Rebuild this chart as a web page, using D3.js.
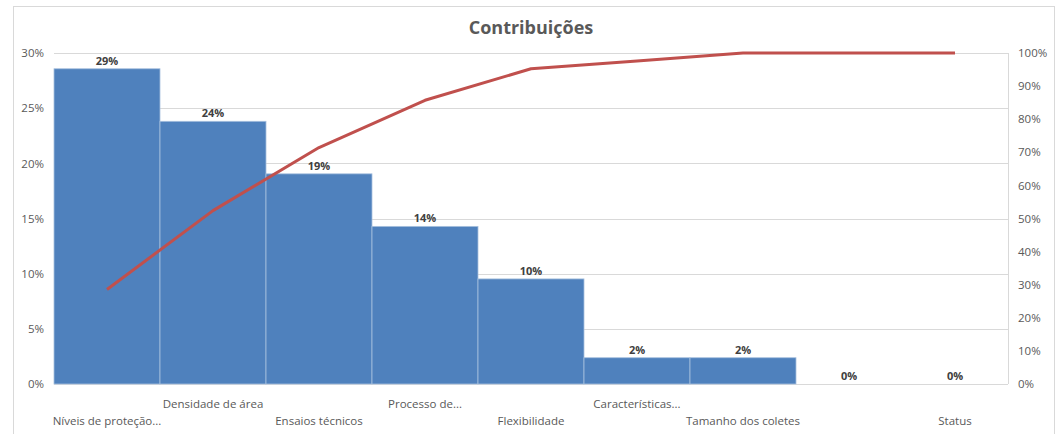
<!DOCTYPE html>
<html lang="pt">
<head>
  <meta charset="UTF-8">
  <title>Contribuições</title>
  <script src="https://d3js.org/d3.v7.min.js"></script>
  <style>
    body
    {
      margin: 0;
      background-color: #ffffff;
    }

    svg
    {
      font-family: "Open Sans", sans-serif;
      display: block;
    }
  </style>
</head>
<body>
  <svg width="1062" height="434"></svg>
  <script>
    // dados
    const categories = [
      "Níveis de proteção...", "Densidade de área", "Ensaios técnicos",
      "Processo de...", "Flexibilidade", "Características...",
      "Tamanho dos coletes", "", "Status"
    ];
    const counts = [12, 10, 8, 6, 4, 1, 1, 0, 0];
    const leftTicks = [0, 0.05, 0.10, 0.15, 0.20, 0.25, 0.30];
    const rightTicks = [0, 0.1, 0.2, 0.3, 0.4, 0.5, 0.6, 0.7, 0.8, 0.9, 1.0];

    const total = d3.sum(counts);
    const shares = counts.map(c => c / total);
    let acc = 0;
    const cumulative = shares.map(s => (acc += s));

    const svg = d3.select("svg");
    const margin = { top: 53, right: 54, bottom: 50, left: 54 };
    const width = 1062, height = 434;

    // moldura do gráfico
    svg.append("rect")
      .attr("x", 13.5).attr("y", 6.5)
      .attr("width", 1041).attr("height", 440)
      .attr("fill", "none").attr("stroke", "#d9d9d9");

    svg.append("text")
      .attr("x", 531).attr("y", 34)
      .attr("text-anchor", "middle")
      .attr("font-size", 18).attr("font-weight", "bold")
      .attr("fill", "#595959")
      .text("Contribuições");

    const x = d3.scaleBand()
      .domain(d3.range(categories.length))
      .range([margin.left, width - margin.right])
      .padding(0);

    const y = d3.scaleLinear()
      .domain([0, 0.30])
      .range([height - margin.bottom, margin.top]);

    const y2 = d3.scaleLinear()
      .domain([0, 1])
      .range([height - margin.bottom, margin.top]);

    // grade
    svg.append("g")
      .selectAll("line")
      .data(leftTicks)
      .join("line")
      .attr("x1", margin.left).attr("x2", width - margin.right)
      .attr("y1", d => Math.round(y(d)) + 0.5).attr("y2", d => Math.round(y(d)) + 0.5)
      .attr("stroke", "#d9d9d9");

    svg.append("line")
      .attr("x1", width - margin.right + 0.5).attr("x2", width - margin.right + 0.5)
      .attr("y1", margin.top).attr("y2", height - margin.bottom)
      .attr("stroke", "#d9d9d9");

    // barras
    svg.append("g")
      .selectAll("rect")
      .data(shares)
      .join("rect")
      .attr("x", (d, i) => x(i))
      .attr("y", d => y(d))
      .attr("width", x.bandwidth())
      .attr("height", d => y(0) - y(d))
      .attr("fill", "#4f81bd")
      .attr("stroke", "#a7c0de")
      .attr("stroke-width", 0.8);

    // rótulos das barras
    svg.append("g")
      .selectAll("text")
      .data(shares)
      .join("text")
      .attr("x", (d, i) => x(i) + x.bandwidth() / 2)
      .attr("y", d => y(d) - 4)
      .attr("text-anchor", "middle")
      .attr("font-size", 11).attr("font-weight", "bold")
      .attr("fill", "#404040")
      .text(d => d3.format(".0%")(d));

    // eixo esquerdo
    const yAxis = svg.append("g")
      .attr("transform", `translate(${margin.left - 7},0)`)
      .call(d3.axisLeft(y).tickValues(leftTicks).tickFormat(d3.format(".0%")).tickSize(0));
    yAxis.select(".domain").remove();
    yAxis.selectAll("text").attr("font-size", 11.5).attr("fill", "#595959")
      .attr("font-family", "'Open Sans', sans-serif");

    // eixo direito
    const y2Axis = svg.append("g")
      .attr("transform", `translate(${width - margin.right + 7},0)`)
      .call(d3.axisRight(y2).tickValues(rightTicks).tickFormat(d3.format(".0%")).tickSize(0));
    y2Axis.select(".domain").remove();
    y2Axis.selectAll("text").attr("font-size", 11.5).attr("fill", "#595959")
      .attr("font-family", "'Open Sans', sans-serif");

    // categorias em duas linhas alternadas
    svg.append("g")
      .selectAll("text")
      .data(categories)
      .join("text")
      .attr("x", (d, i) => x(i) + x.bandwidth() / 2)
      .attr("y", (d, i) => i % 2 === 0 ? 425 : 408)
      .attr("text-anchor", "middle")
      .attr("font-size", 11.5)
      .attr("fill", "#595959")
      .text(d => d);

    // linha acumulada
    const line = d3.line()
      .x((d, i) => x(i) + x.bandwidth() / 2)
      .y(d => y2(d));

    svg.append("path")
      .datum(cumulative)
      .attr("d", line)
      .attr("fill", "none")
      .attr("stroke", "#c0504d")
      .attr("stroke-width", 3)
      .attr("stroke-linejoin", "round");
  </script>
</body>
</html>
